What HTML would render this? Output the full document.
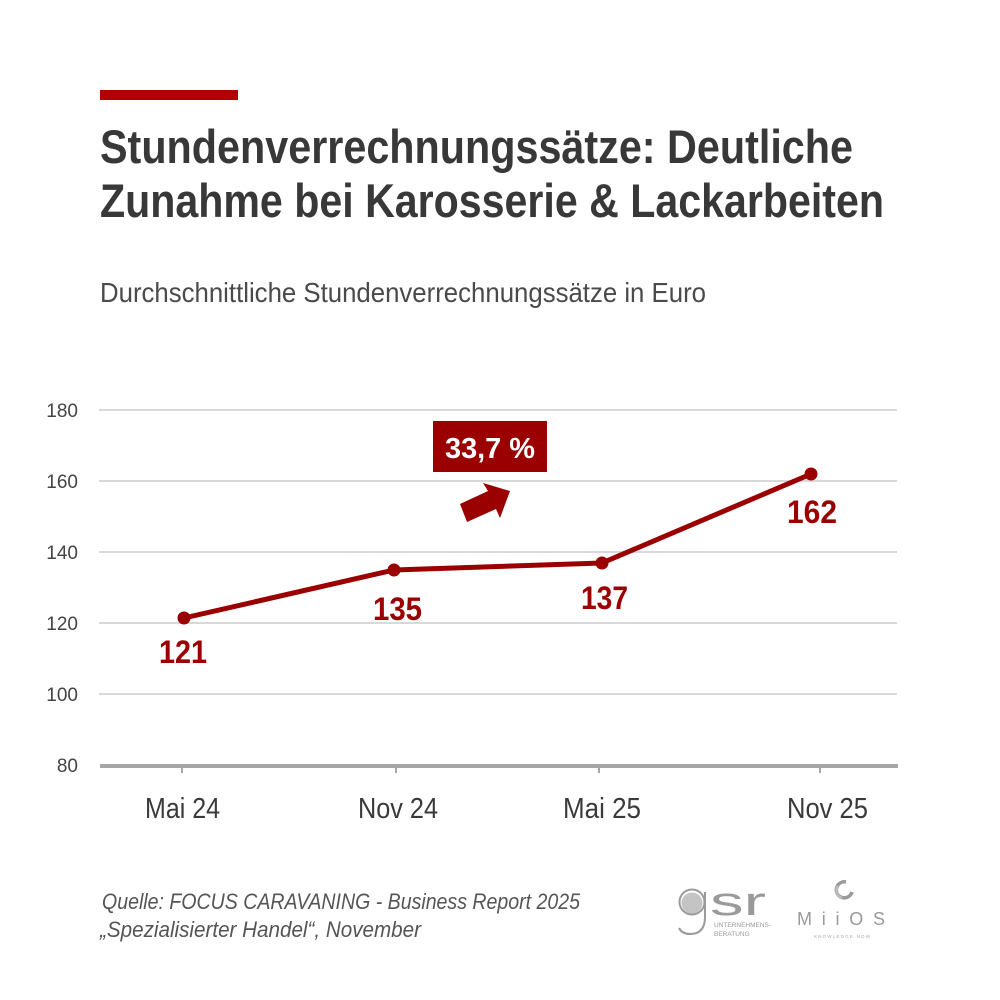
<!DOCTYPE html>
<html>
<head>
<meta charset="utf-8">
<style>
  html, body { margin: 0; padding: 0; background: #ffffff; }
  svg { display: block; }
</style>
</head>
<body>
<svg width="1000" height="1000" viewBox="0 0 1000 1000" xmlns="http://www.w3.org/2000/svg">
  <rect x="0" y="0" width="1000" height="1000" fill="#ffffff"/>

  <!-- red accent bar -->
  <rect x="100" y="90" width="138" height="10" fill="#b00000"/>

  <!-- title -->
  <g font-family="Liberation Sans, sans-serif" font-weight="bold" font-size="47" fill="#383838">
    <text x="100" y="163" textLength="753" lengthAdjust="spacingAndGlyphs">Stundenverrechnungssätze: Deutliche</text>
    <text x="100" y="217" textLength="784" lengthAdjust="spacingAndGlyphs">Zunahme bei Karosserie &amp; Lackarbeiten</text>
  </g>

  <!-- subtitle -->
  <text x="100" y="302" font-family="Liberation Sans, sans-serif" font-size="28" fill="#4a4a4a" textLength="606" lengthAdjust="spacingAndGlyphs">Durchschnittliche Stundenverrechnungssätze in Euro</text>

  <!-- gridlines -->
  <g stroke="#d9d9d9" stroke-width="2">
    <line x1="99" y1="410" x2="897" y2="410"/>
    <line x1="99" y1="481" x2="897" y2="481"/>
    <line x1="99" y1="552" x2="897" y2="552"/>
    <line x1="99" y1="623" x2="897" y2="623"/>
    <line x1="99" y1="694" x2="897" y2="694"/>
  </g>
  <!-- x axis -->
  <line x1="100" y1="766" x2="898" y2="766" stroke="#a6a6a6" stroke-width="4"/>
  <g stroke="#a6a6a6" stroke-width="2">
    <line x1="182" y1="766" x2="182" y2="773"/>
    <line x1="396" y1="766" x2="396" y2="773"/>
    <line x1="599" y1="766" x2="599" y2="773"/>
    <line x1="820" y1="766" x2="820" y2="773"/>
  </g>

  <!-- y labels -->
  <g font-family="Liberation Sans, sans-serif" font-size="19" fill="#444444" text-anchor="end">
    <text x="78" y="417">180</text>
    <text x="78" y="488">160</text>
    <text x="78" y="559">140</text>
    <text x="78" y="630">120</text>
    <text x="78" y="701">100</text>
    <text x="78" y="772">80</text>
  </g>

  <!-- x labels -->
  <g font-family="Liberation Sans, sans-serif" font-size="29" fill="#3a3a3a">
    <text x="145" y="818" textLength="75" lengthAdjust="spacingAndGlyphs">Mai 24</text>
    <text x="358" y="818" textLength="80" lengthAdjust="spacingAndGlyphs">Nov 24</text>
    <text x="563" y="818" textLength="78" lengthAdjust="spacingAndGlyphs">Mai 25</text>
    <text x="787" y="818" textLength="81" lengthAdjust="spacingAndGlyphs">Nov 25</text>
  </g>

  <!-- data line -->
  <polyline points="184,618 394,570 602,563 811,474" fill="none" stroke="#9b0000" stroke-width="5" stroke-linejoin="round"/>
  <g fill="#9b0000">
    <circle cx="184" cy="618" r="6.5"/>
    <circle cx="394" cy="570" r="6.5"/>
    <circle cx="602" cy="563" r="6.5"/>
    <circle cx="811" cy="474" r="6.5"/>
  </g>

  <!-- data labels -->
  <g font-family="Liberation Sans, sans-serif" font-weight="bold" font-size="32" fill="#9b0000">
    <text x="159" y="663" textLength="48" lengthAdjust="spacingAndGlyphs">121</text>
    <text x="373" y="620" textLength="49" lengthAdjust="spacingAndGlyphs">135</text>
    <text x="581" y="609" textLength="47" lengthAdjust="spacingAndGlyphs">137</text>
    <text x="787" y="523" textLength="50" lengthAdjust="spacingAndGlyphs">162</text>
  </g>

  <!-- badge -->
  <rect x="433" y="421" width="114" height="51" fill="#9b0000"/>
  <text x="445" y="458" font-family="Liberation Sans, sans-serif" font-weight="bold" font-size="29" fill="#ffffff" textLength="90" lengthAdjust="spacingAndGlyphs">33,7 %</text>

  <!-- arrow -->
  <polygon points="460,504 488,491 483,483 510,491 500,518 496,509 467,522" fill="#9b0000"/>

  <!-- footer source -->
  <g font-family="Liberation Sans, sans-serif" font-style="italic" font-size="22" fill="#555555">
    <text x="102" y="909" textLength="478" lengthAdjust="spacingAndGlyphs">Quelle: FOCUS CARAVANING - Business Report 2025</text>
    <text x="100" y="937" textLength="321" lengthAdjust="spacingAndGlyphs">„Spezialisierter Handel“, November</text>
  </g>

  <!-- gsr logo -->
  <g>
    <circle cx="692" cy="903" r="10.5" fill="#c4c4c4"/>
    <circle cx="692" cy="902" r="12.5" fill="none" stroke="#9a9a9a" stroke-width="2"/>
    <path d="M705,892 L705,917 Q705,934 690,934 Q682,934 679,928" fill="none" stroke="#9a9a9a" stroke-width="2"/>
    <text x="710" y="915" font-family="Liberation Sans, sans-serif" font-size="40" fill="#9a9a9a" textLength="56" lengthAdjust="spacingAndGlyphs">sr</text>
    <text x="714" y="927" font-family="Liberation Sans, sans-serif" font-size="6.5" fill="#9a9a9a">UNTERNEHMENS-</text>
    <text x="714" y="936" font-family="Liberation Sans, sans-serif" font-size="6.5" fill="#9a9a9a">BERATUNG</text>
  </g>

  <!-- MiiOS logo -->
  <g>
    <path d="M846,882 A8,8 0 1 0 852,892" fill="none" stroke="#9a9a9a" stroke-width="3.5"/>
    <path d="M842,898 A8,8 0 0 1 838,886" fill="none" stroke="#bbbbbb" stroke-width="3"/>
    <text x="797" y="925" font-family="Liberation Sans, sans-serif" font-size="18" fill="#9a9a9a" textLength="88" lengthAdjust="spacing">MiiOS</text>
    <text x="814" y="938" font-family="Liberation Sans, sans-serif" font-size="4.5" fill="#aaaaaa" textLength="56" lengthAdjust="spacing">KNOWLEDGE NOW</text>
  </g>
</svg>
</body>
</html>
